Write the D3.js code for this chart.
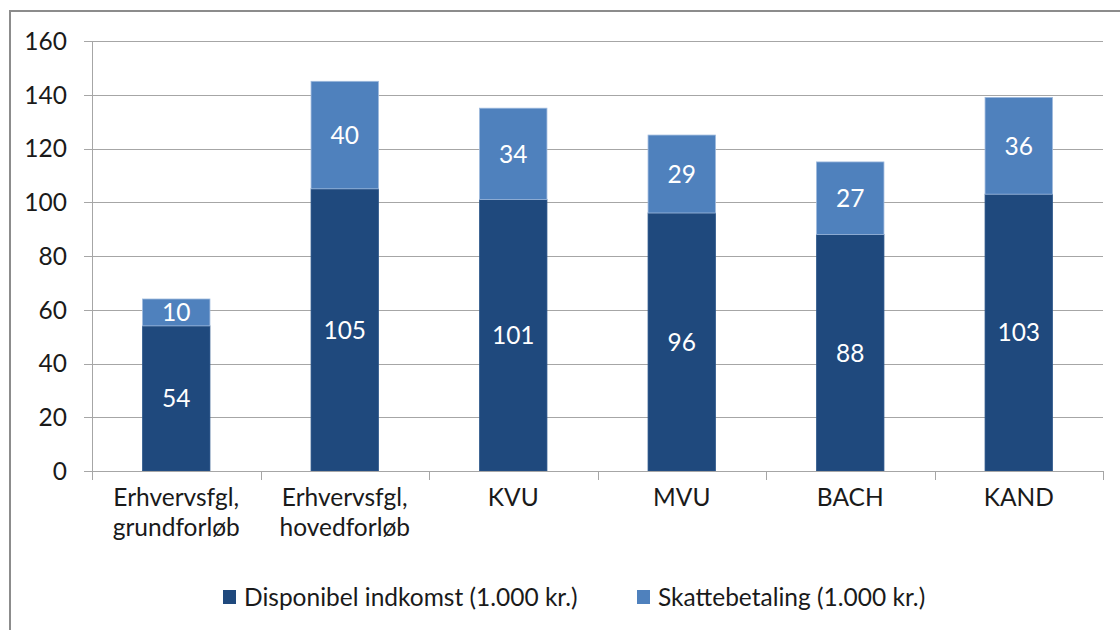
<!DOCTYPE html>
<html>
<head>
<meta charset="utf-8">
<script src="https://cdn.jsdelivr.net/npm/d3@7"></script>
<style>
  body { margin: 0; background: #fff; }
  svg text { font-family: Lato, "Open Sans", sans-serif; }
</style>
</head>
<body>
<div id="chart"></div>
<script>
(function(){

  let width = 1120;
  let height = 630;

  // data
  var categories = [
    ["Erhvervsfgl,", "grundforløb"],
    ["Erhvervsfgl,", "hovedforløb"],
    ["KVU"],
    ["MVU"],
    ["BACH"],
    ["KAND"]
  ];
  var disponibel = [54, 105, 101, 96, 88, 103];
  var skat = [10, 40, 34, 29, 27, 36];
  var seriesNames = ["Disponibel indkomst (1.000 kr.)", "Skattebetaling (1.000 kr.)"];
  var yTicks = [0, 20, 40, 60, 80, 100, 120, 140, 160];

  var colors = ["#1f497d", "#4f81bd"];
  var fontSize = 24.5;

  let svg = d3.select('#chart')
            .append("svg")
            .attr("width", width)
            .attr("height", height);

  // outer frame (right and bottom fall off the picture)
  svg.append("rect")
    .attr("x", 10).attr("y", 11)
    .attr("width", width + 20).attr("height", height + 20)
    .attr("fill", "none")
    .attr("stroke", "#8c8c8c")
    .attr("stroke-width", 2);

  var x = d3.scaleBand().domain(d3.range(categories.length)).range([92, 1103]).paddingInner(0.6).paddingOuter(0.3);
  var y = d3.scaleLinear().domain([0, 160]).range([471, 41]);

  // gridlines + y tick marks
  svg.selectAll(".grid")
    .data(yTicks)
    .enter().append("line")
    .attr("class", "grid")
    .attr("x1", 84).attr("x2", 1103)
    .attr("y1", d => Math.round(y(d)) + 0.5)
    .attr("y2", d => Math.round(y(d)) + 0.5)
    .attr("stroke", "#a6a6a6")
    .attr("stroke-width", 1);

  svg.selectAll(".ylab")
    .data(yTicks)
    .enter().append("text")
    .attr("class", "ylab")
    .attr("x", 67)
    .attr("y", d => y(d))
    .attr("dy", "0.36em")
    .attr("text-anchor", "end")
    .attr("font-size", fontSize)
    .attr("fill", "#1a1a1a")
    .text(d => d);

  // y axis line
  svg.append("line")
    .attr("x1", 92.5).attr("x2", 92.5)
    .attr("y1", y(160)).attr("y2", 471)
    .attr("stroke", "#a6a6a6");

  // category tick marks
  var catTicks = d3.range(categories.length + 1).map(i => 92 + i * (1103 - 92) / categories.length);
  svg.selectAll(".xtick")
    .data(catTicks)
    .enter().append("line")
    .attr("class", "xtick")
    .attr("x1", d => Math.round(d) + 0.5).attr("x2", d => Math.round(d) + 0.5)
    .attr("y1", 471).attr("y2", 480)
    .attr("stroke", "#a6a6a6");

  // stacked bars
  var stacked = categories.map((c, i) => [
    {i: i, s: 0, y0: 0, y1: disponibel[i], v: disponibel[i]},
    {i: i, s: 1, y0: disponibel[i], y1: disponibel[i] + skat[i], v: skat[i]}
  ]);
  var segs = [].concat(...stacked);

  svg.selectAll(".bar")
    .data(segs)
    .enter().append("rect")
    .attr("class", "bar")
    .attr("x", d => x(d.i))
    .attr("width", x.bandwidth())
    .attr("y", d => y(d.y1))
    .attr("height", d => y(d.y0) - y(d.y1))
    .attr("fill", d => colors[d.s])
    .attr("stroke", d => d.s === 1 ? "#9db9dd" : "#2c5689")
    .attr("stroke-width", 0.8);

  svg.selectAll(".barlab")
    .data(segs)
    .enter().append("text")
    .attr("class", "barlab")
    .attr("x", d => x(d.i) + x.bandwidth() / 2)
    .attr("y", d => (y(d.y0) + y(d.y1)) / 2)
    .attr("dy", "0.36em")
    .attr("text-anchor", "middle")
    .attr("font-size", fontSize)
    .attr("fill", "#ffffff")
    .text(d => d.v);

  // x axis line
  svg.append("line")
    .attr("x1", 84).attr("x2", 1103)
    .attr("y1", 471.5).attr("y2", 471.5)
    .attr("stroke", "#a6a6a6");

  // category labels
  var catLab = svg.selectAll(".xlab")
    .data(categories)
    .enter().append("text")
    .attr("class", "xlab")
    .attr("text-anchor", "middle")
    .attr("font-size", fontSize)
    .attr("fill", "#1a1a1a");
  catLab.selectAll("tspan")
    .data((d, i) => d.map((t, j) => ({t: t, j: j, i: i})))
    .enter().append("tspan")
    .attr("x", d => x(d.i) + x.bandwidth() / 2)
    .attr("y", d => 506 + d.j * 30)
    .text(d => d.t);

  // legend
  var legendX = [223, 637];
  var legend = svg.selectAll(".legend")
    .data(seriesNames)
    .enter().append("g")
    .attr("class", "legend")
    .attr("transform", (d, i) => "translate(" + legendX[i] + ",597)");
  legend.append("rect")
    .attr("x", 0).attr("y", -7)
    .attr("width", 13).attr("height", 14)
    .attr("fill", (d, i) => colors[i]);
  legend.append("text")
    .attr("x", 21)
    .attr("dy", "0.36em")
    .attr("font-size", fontSize)
    .attr("fill", "#1a1a1a")
    .text(d => d);

})();
</script>
</body>
</html>
